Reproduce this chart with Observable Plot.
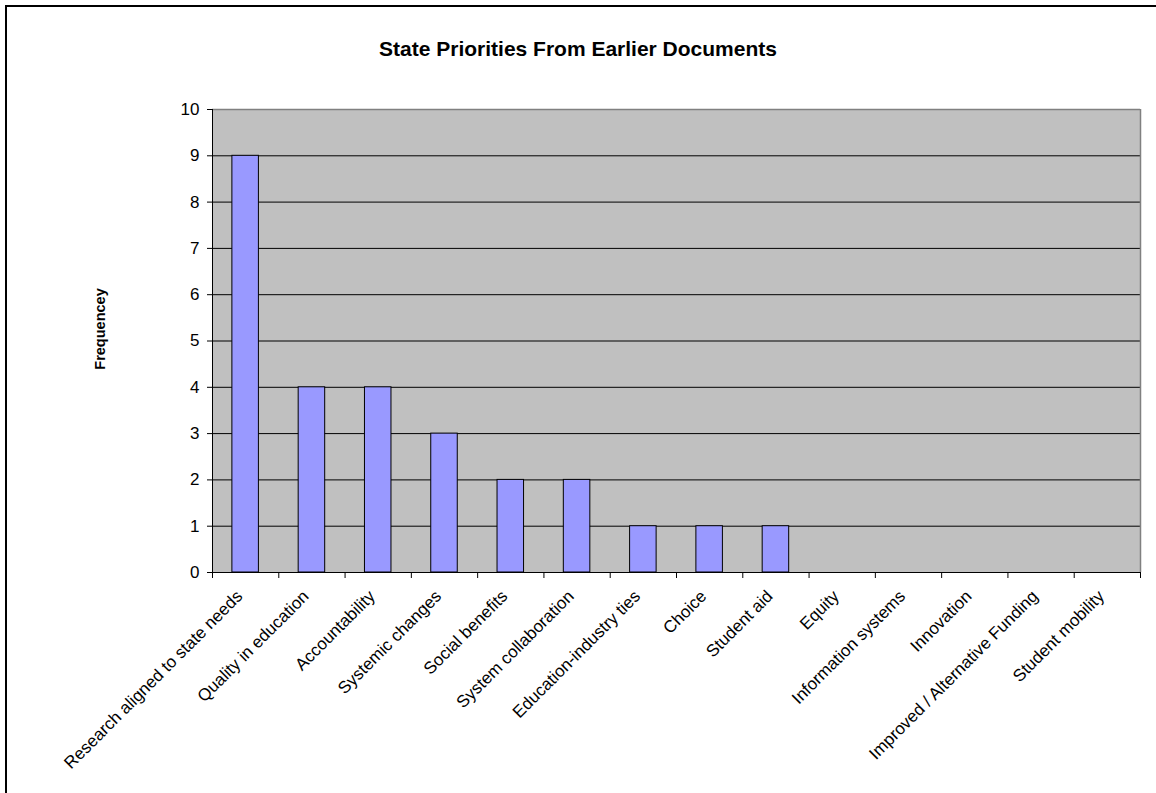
<!DOCTYPE html>
<html>
<head>
<meta charset="utf-8">
<script src="https://cdn.jsdelivr.net/npm/d3@7"></script>
<script src="https://cdn.jsdelivr.net/npm/@observablehq/plot@0.6"></script>
<style>
  html, body { margin: 0; padding: 0; background: #fff; overflow: hidden; }
  #wrap { position: relative; width: 1156px; height: 793px; overflow: hidden; font-family: "Liberation Sans", Arial, sans-serif; }
  #btop { position: absolute; left: 5px; top: 5px; width: 1151px; height: 2px; background: #000; }
  #bleft { position: absolute; left: 5px; top: 5px; width: 2px; height: 788px; background: #000; }
  #title { position: absolute; left: 0; top: 37px; width: 1156px; text-align: center; font-weight: bold; font-size: 21px; line-height: 24px; color: #000; }
  #chart { position: absolute; left: 0; top: 0; }
</style>
</head>
<body>
<div id="wrap">
  <div id="btop"></div>
  <div id="bleft"></div>
  <div id="chart"></div>
  <div id="title">State Priorities From Earlier Documents</div>
</div>
<script>
const categories = [
  "Research aligned to state needs",
  "Quality in education",
  "Accountability",
  "Systemic changes",
  "Social benefits",
  "System collaboration",
  "Education-industry ties",
  "Choice",
  "Student aid",
  "Equity",
  "Information systems",
  "Innovation",
  "Improved / Alternative Funding",
  "Student mobility"
];
const values = [9, 4, 4, 3, 2, 2, 1, 1, 1, 0, 0, 0, 0, 0];
const yTicks = [0, 1, 2, 3, 4, 5, 6, 7, 8, 9, 10];
const yLabel = "Frequencey";

const data = categories.map((c, i) => ({category: c, value: values[i], idx: i}));
const n = categories.length;

const chart = Plot.plot({
  width: 1156,
  height: 793,
  marginLeft: 212,
  marginRight: 16,
  marginTop: 109,
  marginBottom: 221,
  style: {fontFamily: "'Liberation Sans', Arial, sans-serif", fontSize: "17px", background: "transparent", color: "#000"},
  x: {type: "linear", domain: [0, n], axis: null},
  y: {domain: [0, 10], axis: null},
  marks: [
    Plot.frame({fill: "#C0C0C0", stroke: null}),
    Plot.gridY(yTicks.filter(t => t > 0 && t < 10), {stroke: "#000", strokeOpacity: 1, strokeWidth: 1}),
    Plot.ruleY([10], {stroke: "#808080", strokeWidth: 1.5}),
    Plot.ruleX([n], {stroke: "#808080", strokeWidth: 1.5}),
    Plot.rect(data, {
      filter: d => d.value > 0,
      x1: d => d.idx + 0.3,
      x2: d => d.idx + 0.7,
      y1: 0,
      y2: "value",
      fill: "#9999FF",
      stroke: "#000",
      strokeWidth: 1
    }),
    Plot.ruleX([0], {stroke: "#000", strokeWidth: 1}),
    Plot.ruleY([0], {stroke: "#000", strokeWidth: 1}),
    Plot.axisY({ticks: yTicks, tickSize: 5, tickPadding: 8, fontSize: 17, label: null, stroke: "#000"}),
    Plot.axisX({ticks: d3.range(0, n + 1), tickSize: 6, tickFormat: () => "", label: null, stroke: "#000"}),
    Plot.text(data, {
      x: d => d.idx + 0.5,
      y: 0,
      text: "category",
      rotate: -45,
      textAnchor: "end",
      lineAnchor: "middle",
      dx: -6,
      dy: 21,
      fontSize: 17,
      fill: "#000"
    }),
    Plot.text([yLabel], {
      frameAnchor: "left",
      textAnchor: "middle",
      dx: -112,
      dy: -12,
      rotate: -90,
      fontWeight: "bold",
      fontSize: 14.5,
      fill: "#000"
    })
  ]
});
document.getElementById("chart").appendChild(chart);
</script>
</body>
</html>
